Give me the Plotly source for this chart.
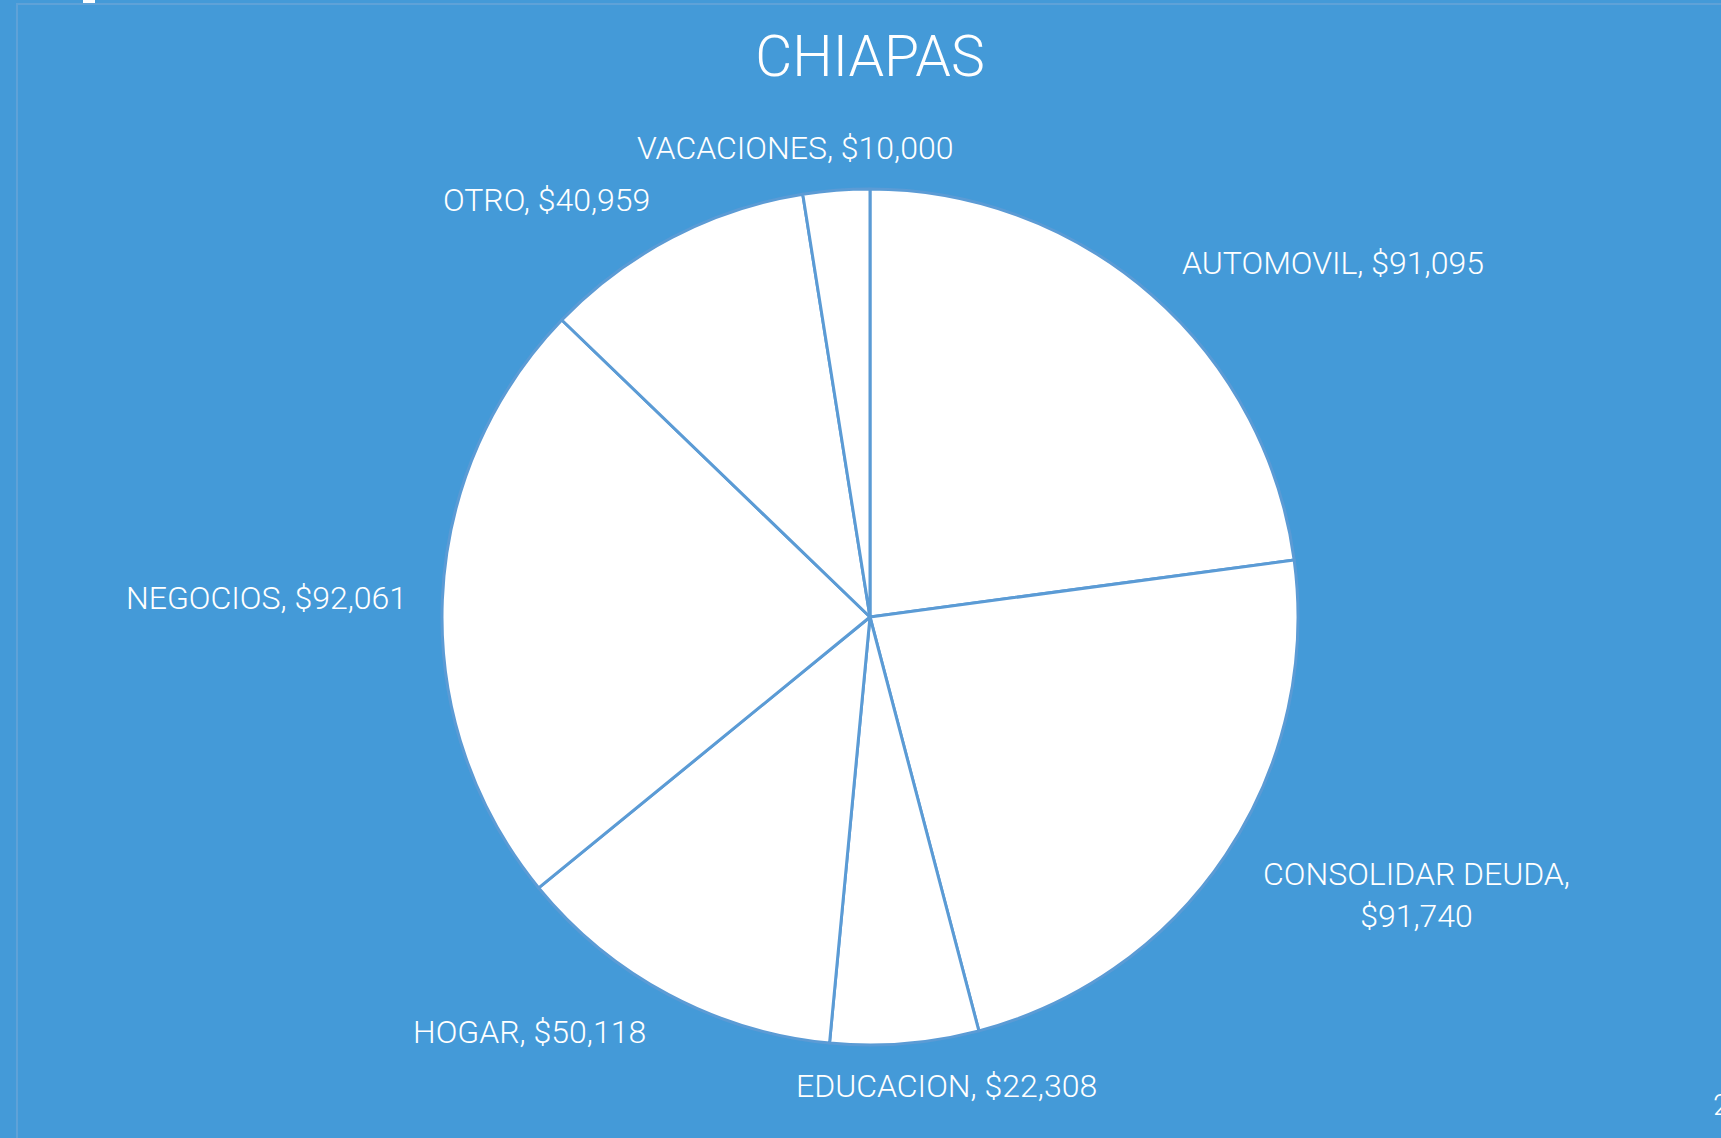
import math
import plotly.graph_objects as go

W, H = 1721, 1138

categories = ["AUTOMOVIL", "CONSOLIDAR DEUDA", "EDUCACION", "HOGAR", "NEGOCIOS", "OTRO", "VACACIONES"]
values = [91095, 91740, 22308, 50118, 92061, 40959, 10000]
title_text = "CHIAPAS"

BG = "#449AD8"
EDGE = "#5B9BD5"
FONT = "Roboto"

cx, cy, r = 870, 617, 428
fig = go.Figure(go.Pie(
    labels=categories,
    values=values,
    textinfo="none",
    sort=False,
    direction="clockwise",
    rotation=0,
    marker=dict(colors=["#FFFFFF"] * len(values), line=dict(color=EDGE, width=3)),
    showlegend=False,
    hoverinfo="label+value",
    domain=dict(x=[(cx - r) / W, (cx + r) / W], y=[(H - cy - r) / H, (H - cy + r) / H]),
))

# data labels placed just outside each slice, at the slice mid-angle
annotations = []
total = sum(values)
cum = 0.0
d = 1.1 * r
for c, v in zip(categories, values):
    mid = (cum + v / 2) / total
    cum += v
    ang = math.radians(90 - mid * 360)
    ca, sa = math.cos(ang), math.sin(ang)
    px = cx + d * ca
    py = cy - d * sa
    multiline = len(c) > 12
    sep = "<br>" if multiline else " "
    txt = f"{c},{sep}${v:,}"
    if abs(ca) < 0.2:
        xanchor = "center"
        px += 38 * (1 if ca > 0 else -1)
    else:
        xanchor = "left" if ca > 0 else "right"
        if abs(sa) < 0.2:
            px += 9 * (1 if ca > 0 else -1) * -1
    annotations.append(dict(
        text=txt, x=px / W, y=1 - py / H, xref="paper", yref="paper",
        xanchor=xanchor, yanchor="middle", showarrow=False, align="center",
        yshift=-16 if multiline else 0,
        font=dict(family=FONT, size=32, color="white", weight=300),
    ))

annotations.append(dict(text="2", x=1711 / W, y=1 - 1104 / H, xref="paper", yref="paper", xanchor="left",
                        yanchor="middle", showarrow=False,
                        font=dict(family=FONT, size=30, color="white", weight=300)))

fig.update_layout(
    width=W, height=H,
    margin=dict(l=0, r=0, t=0, b=0),
    paper_bgcolor=BG, plot_bgcolor=BG,
    title=dict(text=title_text, x=cx / W, xanchor="center", y=1 - 56 / H, yanchor="middle",
               font=dict(family=FONT, size=57, color="white", weight=300)),
    shapes=[
        dict(type="rect", xref="paper", yref="paper", x0=17 / W, x1=1.01, y0=-0.01, y1=1 - 4 / H,
             line=dict(color="#5FA2D8", width=2), fillcolor="rgba(0,0,0,0)", layer="below"),
        dict(type="rect", xref="paper", yref="paper", x0=83 / W, x1=95 / W, y0=1 - 3 / H, y1=1.0,
             line=dict(width=0), fillcolor="white"),
    ],
    annotations=annotations,
)

fig.write_html("out.html", config={"displayModeBar": False},
               post_script="document.body.style.margin='0';document.body.style.background='#449AD8';")
